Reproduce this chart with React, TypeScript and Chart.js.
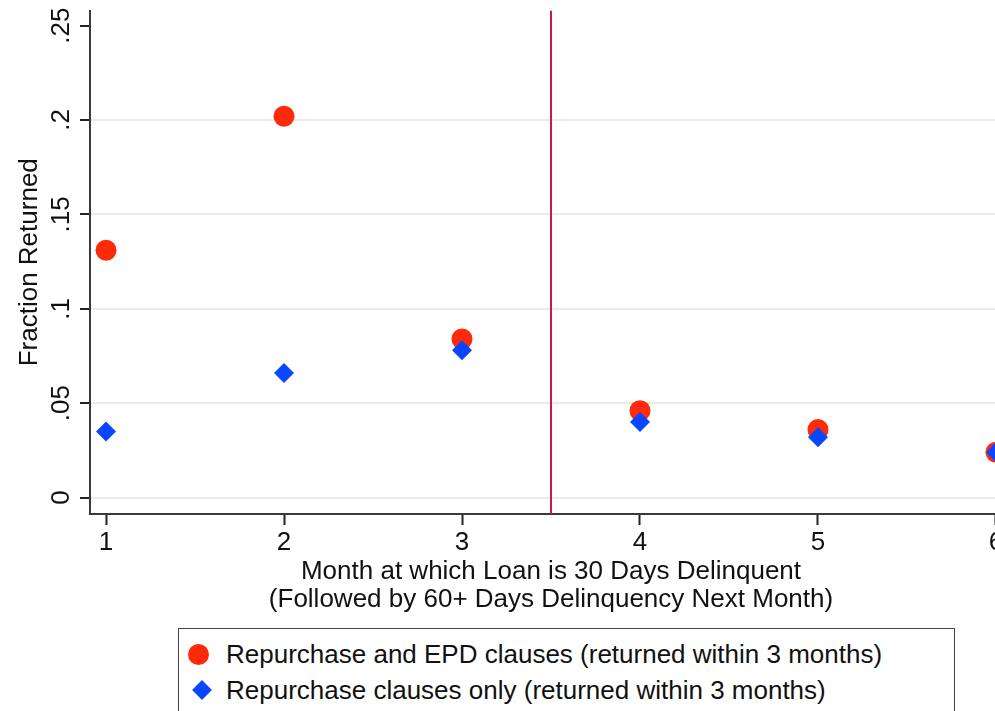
import React, { useEffect, useRef } from "react";
import { Chart, registerables } from "chart.js";

Chart.register(...registerables);

const MONTHS = [1, 2, 3, 4, 5, 6];
const EPD_VALUES = [0.131, 0.202, 0.084, 0.046, 0.036, 0.024];
const REPURCHASE_VALUES = [0.035, 0.066, 0.078, 0.04, 0.032, 0.024];
const Y_TICKS = [0, 0.05, 0.1, 0.15, 0.2, 0.25];
const X_TICKS = [1, 2, 3, 4, 5, 6];
const CUTOFF = 3.5;
const X_MIN = 0.91;
const X_MAX = 6.09;
const Y_MIN = -0.0087;
const Y_MAX = 0.258;

const EPD_LABEL = "Repurchase and EPD clauses (returned within 3 months)";
const REP_LABEL = "Repurchase clauses only (returned within 3 months)";
const X_TITLE = ["Month at which Loan is 30 Days Delinquent", "(Followed by 60+ Days Delinquency Next Month)"];
const Y_TITLE = "Fraction Returned";

const RED = "#ff2a0a";
const BLUE = "#0a46ff";
const LINE_RED = "#c41e3a";
const FONT = "'Liberation Sans', Arial, sans-serif";

function fmtY(v: number): string {
  if (v === 0) return "0";
  return String(v).replace(/^0/, "");
}

export default function App() {
  const ref = useRef<HTMLCanvasElement | null>(null);

  useEffect(() => {
    if (!ref.current) return;
    const chart = new Chart(ref.current, {
      type: "scatter",
      data: {
        datasets: [
          {
            label: REP_LABEL,
            data: MONTHS.map((m, i) => ({ x: m, y: REPURCHASE_VALUES[i] })),
            pointStyle: "rectRot",
            pointRadius: 10,
            backgroundColor: BLUE,
            borderColor: BLUE,
            borderWidth: 0,
            order: 0,
          },
          {
            label: EPD_LABEL,
            data: MONTHS.map((m, i) => ({ x: m, y: EPD_VALUES[i] })),
            pointStyle: "circle",
            pointRadius: 10.5,
            backgroundColor: RED,
            borderColor: RED,
            borderWidth: 0,
            order: 1,
          },
          {
            type: "line",
            label: "cutoff",
            data: [
              { x: CUTOFF, y: Y_MIN },
              { x: CUTOFF, y: Y_MAX },
            ],
            borderColor: LINE_RED,
            borderWidth: 2,
            pointRadius: 0,
            order: 2,
          } as any,
        ],
      },
      options: {
        animation: false,
        responsive: false,
        maintainAspectRatio: false,
        layout: { padding: { left: 0, top: 10, right: 18, bottom: 97 } },
        plugins: { legend: { display: false }, tooltip: { enabled: false } },
        scales: {
          x: {
            type: "linear",
            min: X_MIN,
            max: X_MAX,
            afterBuildTicks: (s: any) => {
              s.ticks = X_TICKS.map((v) => ({ value: v }));
            },
            afterFit: (s: any) => {
              s.height = 100;
              s.paddingLeft = 0;
              s.paddingRight = 0;
            },
            border: { display: true, color: "#3a3a3a", width: 2 },
            grid: {
              display: true,
              drawOnChartArea: false,
              drawTicks: true,
              tickLength: 11,
              tickColor: "#222",
              tickWidth: 2,
            },
            ticks: {
              autoSkip: false,
              maxRotation: 0,
              padding: 2,
              color: "#111",
              font: { family: FONT, size: 26 },
              callback: (v: any) => String(v),
            },
            title: {
              display: true,
              text: X_TITLE,
              color: "#111",
              font: { family: FONT, size: 26, lineHeight: 1.05 },
              padding: { top: 0, bottom: 1 },
            },
          },
          y: {
            type: "linear",
            min: Y_MIN,
            max: Y_MAX,
            afterBuildTicks: (s: any) => {
              s.ticks = Y_TICKS.map((v) => ({ value: v }));
            },
            afterFit: (s: any) => {
              s.width = 90;
              s.paddingTop = 0;
              s.paddingBottom = 0;
            },
            border: { display: true, color: "#3a3a3a", width: 2 },
            grid: {
              display: true,
              color: (ctx: any) =>
                ctx.tick && ctx.tick.value === Y_TICKS[Y_TICKS.length - 1] ? "rgba(0,0,0,0)" : "#ebebeb",
              lineWidth: 2,
              drawTicks: true,
              tickLength: 10,
              tickColor: "#222",
              tickWidth: 2,
            },
            ticks: {
              autoSkip: false,
              minRotation: 90,
              maxRotation: 90,
              crossAlign: "center",
              padding: 0,
              color: "#111",
              font: { family: FONT, size: 26 },
              callback: (v: any) => fmtY(Number(v)),
            },
            title: {
              display: true,
              text: Y_TITLE,
              color: "#111",
              font: { family: FONT, size: 26, lineHeight: 1.2 },
              padding: { top: 14, bottom: 0 },
            },
          },
        },
      },
    });
    return () => chart.destroy();
  }, []);

  return (
    <div
      style={{
        position: "absolute",
        left: 0,
        top: 0,
        width: 995,
        height: 711,
        overflow: "hidden",
        background: "#fff",
        fontFamily: FONT,
      }}
    >
      <canvas ref={ref} width={1030} height={711} style={{ position: "absolute", left: 0, top: 0, width: 1030, height: 711 }} />
      <div
        style={{
          position: "absolute",
          left: 178,
          top: 628,
          width: 777,
          height: 100,
          border: "1.5px solid #444",
          boxSizing: "border-box",
          background: "#fff",
        }}
      >
        <div style={{ position: "absolute", left: 9, top: 15, width: 21, height: 21, borderRadius: "50%", background: RED }} />
        <div
          style={{
            position: "absolute",
            left: 47,
            top: 9,
            fontSize: 26,
            lineHeight: "32px",
            color: "#111",
            whiteSpace: "nowrap",
          }}
        >
          {EPD_LABEL}
        </div>
        <div
          style={{
            position: "absolute",
            left: 16,
            top: 54,
            width: 14,
            height: 14,
            background: BLUE,
            transform: "rotate(45deg)",
          }}
        />
        <div
          style={{
            position: "absolute",
            left: 47,
            top: 45,
            fontSize: 26,
            lineHeight: "32px",
            color: "#111",
            whiteSpace: "nowrap",
          }}
        >
          {REP_LABEL}
        </div>
      </div>
    </div>
  );
}
